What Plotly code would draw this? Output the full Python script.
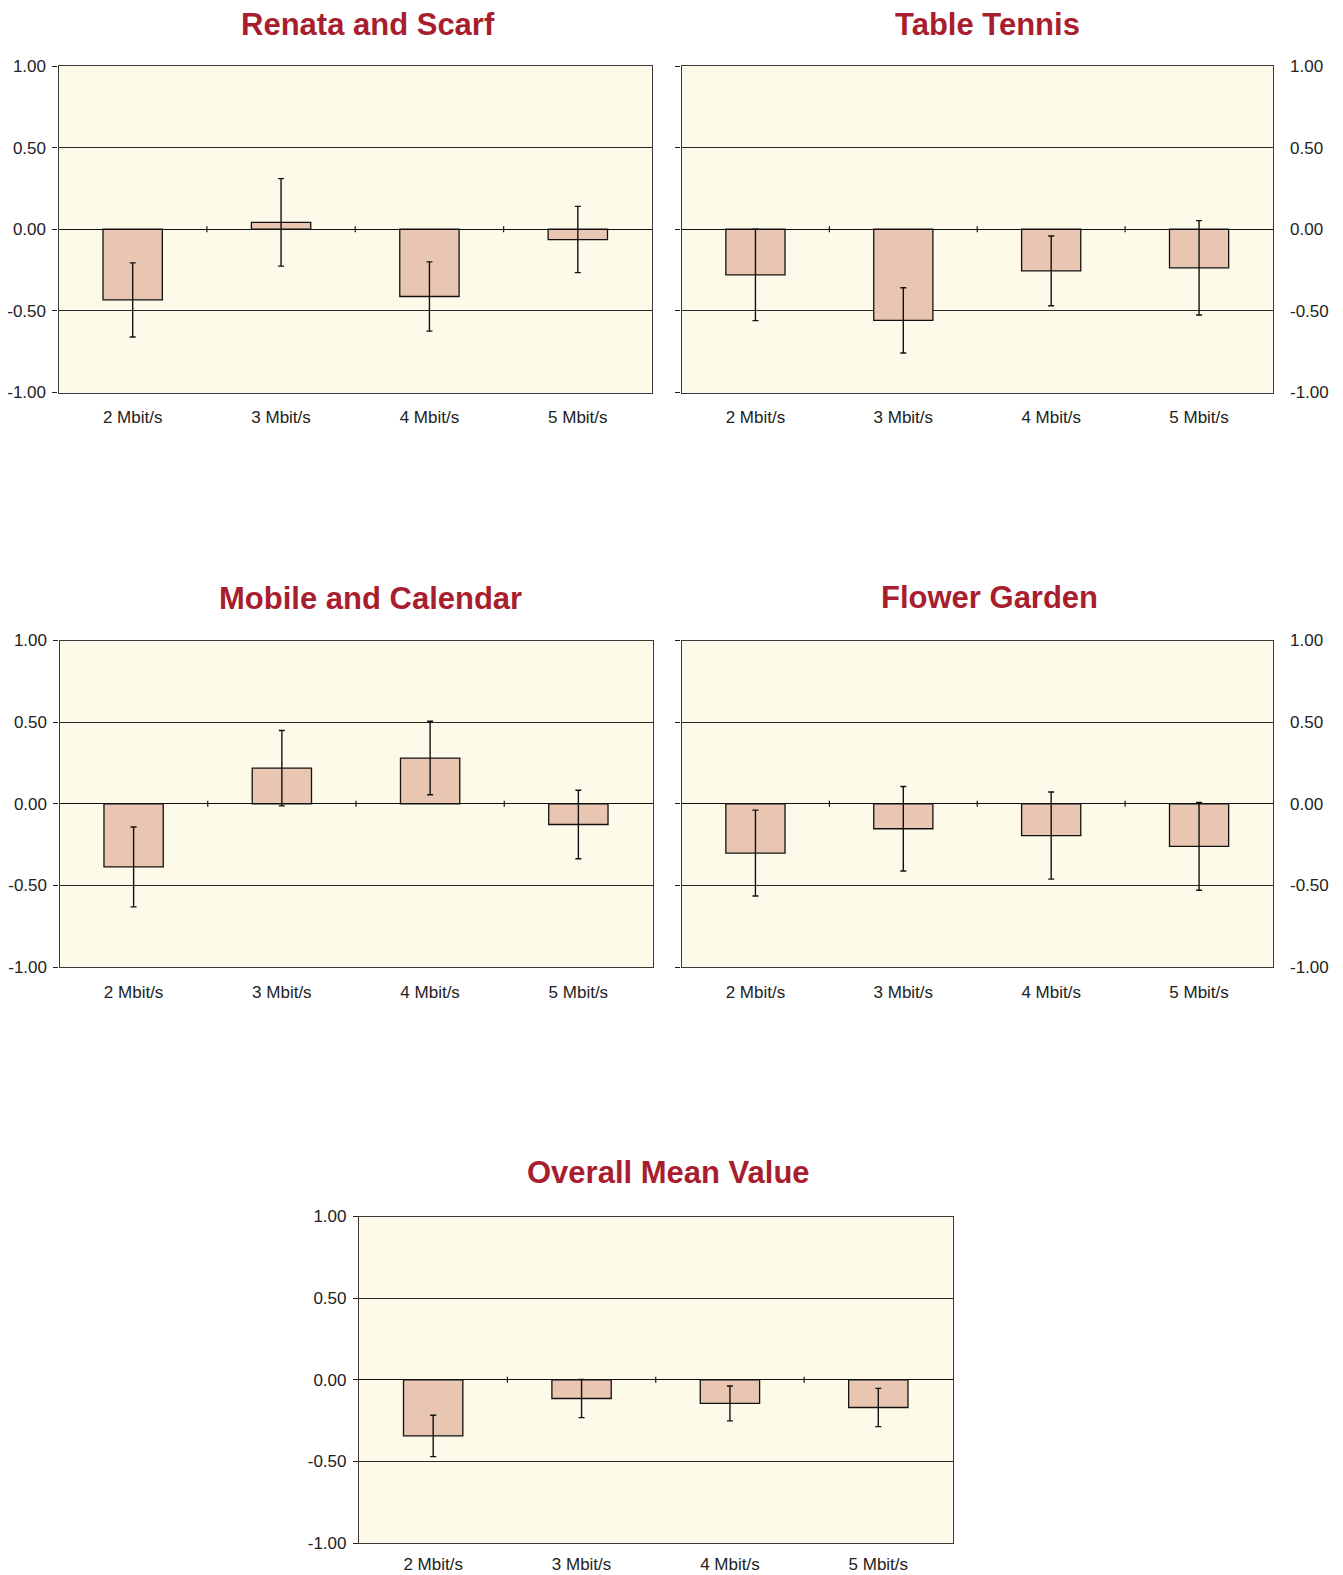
import plotly.graph_objects as go

categories = ["2 Mbit/s", "3 Mbit/s", "4 Mbit/s", "5 Mbit/s"]

titles = ["Renata and Scarf", "Table Tennis", "Mobile and Calendar", "Flower Garden", "Overall Mean Value"]

renata_mean = [-0.433, 0.042, -0.412, -0.063]
renata_err = [0.227, 0.268, 0.212, 0.203]

tennis_mean = [-0.28, -0.558, -0.255, -0.236]
tennis_err = [0.28, 0.20, 0.214, 0.289]

mobile_mean = [-0.387, 0.218, 0.28, -0.127]
mobile_err = [0.245, 0.231, 0.225, 0.21]

flower_mean = [-0.302, -0.153, -0.195, -0.261]
flower_err = [0.263, 0.259, 0.267, 0.269]

overall_mean = [-0.344, -0.115, -0.145, -0.17]
overall_err = [0.127, 0.117, 0.107, 0.117]

y_tickvals = [-1.0, -0.5, 0.0, 0.5, 1.0]
y_ticktext = ["-1.00", "-0.50", "0.00", "0.50", "1.00"]

means = [renata_mean, tennis_mean, mobile_mean, flower_mean, overall_mean]
errs = [renata_err, tennis_err, mobile_err, flower_err, overall_err]

PAGE_OFF = 8  # default page margin around the figure
W, H = 1343 - PAGE_OFF, 1575 - PAGE_OFF
# plot areas in page pixels: (left, right, top, bottom)
areas = [
    (58.5, 652, 66, 392.5),
    (681.5, 1273, 66, 392.5),
    (59.5, 652.5, 640.5, 967),
    (681.5, 1273, 640.5, 967),
    (359, 952.5, 1216.5, 1543),
]
title_pos = [(367.5, 23.5), (987.6, 23.5), (370, 598), (989, 596.5), (668.4, 1172)]
right_labels = [False, True, False, True, False]
x_standoff = [9, 9, 9, 9, 5]

FONT = "Liberation Sans"
BAR_COLOR = "#E8C6B2"
BG = "#FEFAEA"
TITLE_COLOR = "#A81E2E"

fig = go.Figure()
layout = {}
annotations = []
shapes = []
extra_axis = 6

for i in range(5):
    n = "" if i == 0 else str(i + 1)
    xa, ya = "x" + n, "y" + n
    l, r, t, b = [v - PAGE_OFF for v in areas[i]]
    fig.add_trace(go.Bar(
        x=categories, y=means[i], xaxis=xa, yaxis=ya, width=0.4,
        marker=dict(color=BAR_COLOR, line=dict(color="#111111", width=1.3)),
        error_y=dict(type="data", array=errs[i], visible=True, color="#111111", thickness=1.4, width=3),
        showlegend=False, hoverinfo="x+y",
    ))
    layout["xaxis" + n] = dict(
        domain=[l / W, r / W], anchor=ya, type="category", automargin=False,
        range=[-0.5, len(categories) - 0.5],
        showgrid=False, zeroline=False, ticks="",
        showline=True, mirror=True, linecolor="#3a3a3a", linewidth=1.2,
        tickfont=dict(family=FONT, size=17, color="#222222"),
        ticklabelstandoff=x_standoff[i],
    )
    layout["yaxis" + n] = dict(
        domain=[1 - b / H, 1 - t / H], anchor=xa, range=[-1, 1], automargin=False,
        tickvals=y_tickvals, ticktext=y_ticktext,
        showgrid=True, gridcolor="#2a2a2a", gridwidth=1.1,
        zeroline=True, zerolinecolor="#111111", zerolinewidth=1.2,
        showline=True, mirror=True, linecolor="#3a3a3a", linewidth=1.2,
        ticks="outside", ticklen=5, tickcolor="#222222", tickwidth=1,
        showticklabels=not right_labels[i],
        tickfont=dict(family=FONT, size=17, color="#222222"),
        ticklabelstandoff=3,
    )
    if right_labels[i]:
        ov = "y" + str(extra_axis)
        layout["yaxis" + str(extra_axis)] = dict(
            overlaying=ya, anchor=xa, side="right", range=[-1, 1], automargin=False,
            tickvals=y_tickvals, ticktext=y_ticktext,
            showgrid=False, zeroline=False, showline=False, ticks="",
            tickfont=dict(family=FONT, size=17, color="#222222"),
            ticklabelstandoff=16,
        )
        fig.add_trace(go.Scatter(
            x=categories, y=means[i], xaxis=xa, yaxis=ov, mode="markers",
            marker=dict(opacity=0), showlegend=False, hoverinfo="skip",
        ))
        extra_axis += 1
    # category boundary ticks on the zero line
    for k in range(len(categories) - 1):
        shapes.append(dict(type="line", xref=xa, yref=ya, x0=k + 0.5, x1=k + 0.5,
                           y0=-0.019, y1=0.019, line=dict(color="#111111", width=1.2)))
    tx, ty = title_pos[i]
    annotations.append(dict(
        text="<b>" + titles[i] + "</b>", xref="paper", yref="paper",
        x=(tx - PAGE_OFF) / W, y=1 - (ty - PAGE_OFF) / H,
        xanchor="center", yanchor="middle", showarrow=False,
        height=30, valign="middle", borderpad=0,
        font=dict(family=FONT, size=31, color=TITLE_COLOR),
    ))

fig.update_layout(
    width=W, height=H, margin=dict(l=0, r=0, t=0, b=0, autoexpand=False),
    paper_bgcolor="white", plot_bgcolor=BG,
    annotations=annotations, shapes=shapes, bargap=0.6,
    **layout,
)

fig.write_html("out.html")
